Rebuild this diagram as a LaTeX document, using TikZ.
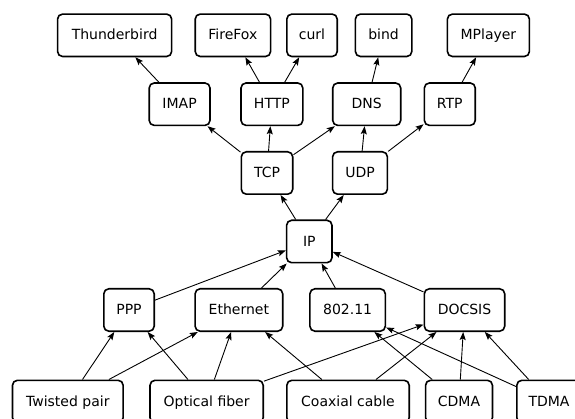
\documentclass[tikz,border=0pt]{standalone}
\usepackage{fontspec}
\setmainfont{DejaVu Sans}
\usetikzlibrary{arrows.meta}
\begin{document}
\begin{tikzpicture}[x=1pt,y=-1pt,
  box/.style={draw, line width=1.6pt, rounded corners=5pt, minimum height=42.4pt,
    inner sep=0pt, text height=10.4pt, text depth=1pt, font=\fontsize{14}{16}\selectfont},
  link/.style={-{Stealth[length=8pt,width=6pt,inset=1.5pt]}, line width=0.9pt}]
\useasboundingbox (0,0) rectangle (575,419);
\clip (0,0) rectangle (575,419);
% row 1
\node[box, minimum width=114.1pt] (thunderbird) at (114.6,35.3) {Thunderbird};
\node[box, minimum width=75.4pt] (firefox) at (232.9,35.3) {FireFox};
\node[box, minimum width=50.4pt] (curl) at (312,35.3) {curl};
\node[box, minimum width=56.4pt] (bind) at (383.6,35.3) {bind};
\node[box, minimum width=82pt] (mplayer) at (488.4,35.3) {MPlayer};
% row 2
\node[box, minimum width=60.8pt] (imap) at (179.6,104.2) {IMAP};
\node[box, minimum width=61.8pt] (http) at (271.9,104.2) {HTTP};
\node[box, minimum width=68pt] (dns) at (366.7,104.2) {DNS};
\node[box, minimum width=50.9pt] (rtp) at (449.8,104.2) {RTP};
% row 3
\node[box, minimum width=51.4pt] (tcp) at (267,173) {TCP};
\node[box, minimum width=54.8pt] (udp) at (360,173) {UDP};
% row 4
\node[box, minimum width=45.4pt] (ip) at (309.3,241.5) {IP};
% row 5
\node[box, minimum width=50.4pt] (ppp) at (129,310) {PPP};
\node[box, minimum width=87.6pt] (ethernet) at (238.9,310) {Ethernet};
\node[box, minimum width=75.4pt] (wifi) at (347.6,310) {802.11};
\node[box, minimum width=80.4pt] (docsis) at (464.5,310) {DOCSIS};
% row 6
\node[box, minimum width=110.7pt] (twisted) at (67.8,401.5) {Twisted pair};
\node[box, minimum width=113.2pt] (optical) at (206.6,401.5) {Optical fiber};
\node[box, minimum width=122.4pt] (coax) at (348,401.5) {Coaxial cable};
\node[box, minimum width=66.9pt] (cdma) at (459,401.5) {CDMA};
\node[box, minimum width=64.4pt] (tdma) at (549,401.5) {TDMA};
% edges
\draw[link] (imap) -- (thunderbird);
\draw[link] (http) -- (firefox);
\draw[link] (http) -- (curl);
\draw[link] (dns) -- (bind);
\draw[link] (rtp) -- (mplayer);
\draw[link] (tcp) -- (imap);
\draw[link] (tcp) -- (http);
\draw[link] (tcp) -- (dns);
\draw[link] (udp) -- (dns);
\draw[link] (udp) -- (rtp);
\draw[link] (ip) -- (tcp);
\draw[link] (ip) -- (udp);
\draw[link] (ppp) -- (ip);
\draw[link] (ethernet) -- (ip);
\draw[link] (wifi) -- (ip);
\draw[link] (docsis) -- (ip);
\draw[link] (twisted) -- (ppp);
\draw[link] (twisted) -- (ethernet);
\draw[link] (optical) -- (ppp);
\draw[link] (optical) -- (ethernet);
\draw[link] (optical) -- (docsis);
\draw[link] (coax) -- (ethernet);
\draw[link] (coax) -- (docsis);
\draw[link] (cdma) -- (wifi);
\draw[link] (cdma) -- (docsis);
\draw[link] (tdma) -- (wifi);
\draw[link] (tdma) -- (docsis);
\end{tikzpicture}
\end{document}
